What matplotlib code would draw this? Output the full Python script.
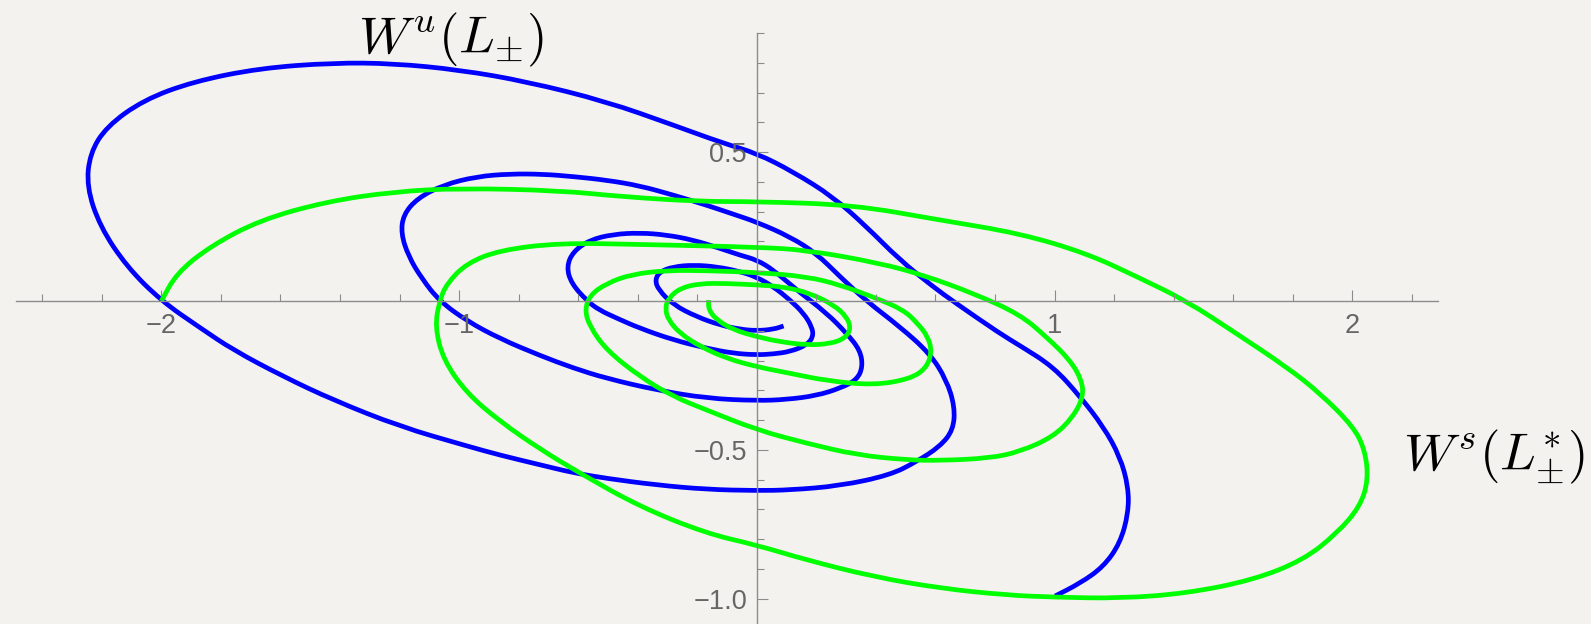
import numpy as np
import matplotlib.pyplot as plt
from matplotlib.path import Path
from matplotlib.patches import PathPatch
from matplotlib.ticker import FixedLocator, FixedFormatter

plt.rcParams['mathtext.fontset'] = 'cm'
plt.rcParams['font.family'] = ['Liberation Sans', 'DejaVu Sans']

# variedade instável W^u (azul), do centro para fora
wu_x = [0.090, 0.056, 0.000, -0.056, -0.123, -0.202, -0.280, -0.330, -0.342, -0.325,
        -0.280, -0.213, -0.134, -0.056, 0.000, 0.056, 0.112, 0.157, 0.185, 0.190,
        0.168, 0.112, 0.056, 0.000, -0.078, -0.168, -0.280, -0.392, -0.470, -0.530,
        -0.570, -0.623, -0.639, -0.617, -0.561, -0.483, -0.393, -0.303, -0.214, -0.124,
        -0.057, 0.000, 0.056, 0.134, 0.235, 0.302, 0.347, 0.356, 0.336, 0.280,
        0.200, 0.100, 0.000, -0.169, -0.337, -0.505, -0.617, -0.729, -0.862, -0.974,
        -1.066, -1.125, -1.170, -1.195, -1.187, -1.140, -1.053, -0.941, -0.829, -0.717,
        -0.617, -0.505, -0.393, -0.281, -0.169, -0.080, 0.000, 0.111, 0.200, 0.279,
        0.368, 0.480, 0.581, 0.637, 0.665, 0.660, 0.615, 0.536, 0.447, 0.279,
        0.111, 0.000, -0.169, -0.337, -0.505, -0.617, -0.729, -0.862, -0.974, -1.198,
        -1.422, -1.590, -1.758, -1.870, -2.000, -2.116, -2.206, -2.251, -2.240, -2.184,
        -2.060, -1.893, -1.669, -1.422, -1.221, -0.997, -0.773, -0.505, -0.281, -0.113,
        0.000, 0.122, 0.256, 0.368, 0.480, 0.592, 0.665, 0.816, 0.884, 0.996,
        1.086, 1.164, 1.220, 1.248, 1.248, 1.220, 1.164, 1.086, 1.002]
wu_y = [-0.084, -0.095, -0.100, -0.095, -0.081, -0.053, -0.013, 0.037, 0.071, 0.099,
        0.115, 0.121, 0.115, 0.099, 0.080, 0.048, 0.003, -0.041, -0.086, -0.120,
        -0.148, -0.170, -0.178, -0.181, -0.176, -0.159, -0.131, -0.092, -0.058, -0.030,
        0.000, 0.059, 0.115, 0.166, 0.205, 0.224, 0.229, 0.222, 0.205, 0.177,
        0.154, 0.138, 0.104, 0.037, -0.041, -0.109, -0.165, -0.221, -0.265, -0.293,
        -0.318, -0.331, -0.335, -0.327, -0.299, -0.260, -0.225, -0.183, -0.127, -0.067,
        0.000, 0.075, 0.150, 0.227, 0.290, 0.345, 0.390, 0.418, 0.427, 0.426,
        0.418, 0.406, 0.387, 0.356, 0.322, 0.292, 0.265, 0.216, 0.160, 0.082,
        0.000, -0.086, -0.176, -0.265, -0.355, -0.433, -0.489, -0.540, -0.585, -0.621,
        -0.635, -0.637, -0.633, -0.618, -0.596, -0.577, -0.550, -0.518, -0.487, -0.422,
        -0.333, -0.254, -0.165, -0.090, 0.000, 0.115, 0.250, 0.384, 0.496, 0.586,
        0.675, 0.737, 0.782, 0.800, 0.798, 0.776, 0.737, 0.670, 0.591, 0.530,
        0.496, 0.434, 0.350, 0.250, 0.138, 0.048, -0.005, -0.109, -0.150, -0.221,
        -0.321, -0.422, -0.523, -0.624, -0.713, -0.814, -0.893, -0.948, -0.991]

# variedade estável W^s (verde), do centro para fora
ws_x = [-0.162, -0.162, -0.134, -0.078, 0.000, 0.078, 0.168, 0.246, 0.297, 0.316,
        0.302, 0.258, 0.179, 0.090, 0.000, -0.101, -0.190, -0.258, -0.297, -0.308,
        -0.297, -0.258, -0.190, -0.101, 0.000, 0.112, 0.235, 0.392, 0.515, 0.570,
        0.588, 0.575, 0.540, 0.493, 0.400, 0.280, 0.168, 0.000, -0.168, -0.300,
        -0.420, -0.505, -0.560, -0.578, -0.561, -0.505, -0.393, -0.281, -0.169, 0.000,
        0.167, 0.335, 0.503, 0.615, 0.783, 0.884, 0.996, 1.063, 1.097, 1.091,
        1.052, 0.972, 0.884, 0.727, 0.559, 0.414, 0.168, 0.000, -0.392, -0.661,
        -0.862, -0.974, -1.041, -1.066, -1.081, -1.053, -0.974, -0.862, -0.729, -0.595,
        -0.393, -0.169, 0.000, 0.167, 0.391, 0.615, 0.839, 1.000, 1.220, 1.444,
        1.668, 1.836, 1.948, 2.026, 2.054, 2.043, 2.004, 1.892, 1.780, 1.612,
        1.444, 1.276, 1.108, 0.884, 0.615, 0.324, 0.000, -0.191, -0.450, -0.661,
        -0.997, -1.221, -1.445, -1.669, -1.837, -1.949, -2.000]
ws_y = [0.003, -0.030, -0.064, -0.097, -0.120, -0.137, -0.148, -0.144, -0.125, -0.092,
        -0.053, -0.013, 0.026, 0.048, 0.054, 0.059, 0.059, 0.043, 0.009, -0.025,
        -0.064, -0.109, -0.153, -0.193, -0.221, -0.243, -0.268, -0.283, -0.262, -0.225,
        -0.170, -0.120, -0.075, -0.030, 0.010, 0.054, 0.082, 0.096, 0.102, 0.103,
        0.090, 0.059, 0.020, -0.030, -0.086, -0.165, -0.254, -0.321, -0.366, -0.433,
        -0.478, -0.517, -0.534, -0.536, -0.528, -0.506, -0.456, -0.389, -0.321, -0.265,
        -0.198, -0.120, -0.045, 0.026, 0.087, 0.127, 0.171, 0.181, 0.190, 0.195,
        0.171, 0.127, 0.059, 0.000, -0.086, -0.198, -0.310, -0.405, -0.497, -0.578,
        -0.691, -0.781, -0.820, -0.870, -0.926, -0.965, -0.988, -0.995, -0.999, -0.982,
        -0.937, -0.870, -0.781, -0.691, -0.601, -0.501, -0.422, -0.310, -0.222, -0.110,
        0.000, 0.082, 0.160, 0.227, 0.272, 0.323, 0.334, 0.334, 0.350, 0.371,
        0.379, 0.367, 0.334, 0.272, 0.183, 0.093, 0.000]

x_major = [-2, -1, 1, 2]
x_labels = ['\u22122', '\u22121', '1', '2']
y_major = [-1.0, -0.5, 0.5]
y_labels = ['\u22121.0', '\u22120.5', '0.5']

fundo = '#f3f2ee'
cinza = '#8c8c8c'


def curva(xs, ys):
    # pontos lidos como controles de uma cadeia de Bézier quadráticas
    p = np.column_stack([xs, ys])
    verts = [p[0], (p[0] + p[1]) / 2]
    codes = [Path.MOVETO, Path.LINETO]
    for i in range(1, len(p) - 1):
        verts += [p[i], (p[i] + p[i + 1]) / 2]
        codes += [Path.CURVE3, Path.CURVE3]
    verts.append(p[-1])
    codes.append(Path.LINETO)
    return Path(verts, codes)


fig = plt.figure(figsize=(15.91, 6.24), dpi=100, facecolor=fundo)
ax = fig.add_axes([0, 0, 1, 1], facecolor=fundo)
ax.set_xlim(-2.542, 2.802)
ax.set_ylim(-1.085, 1.011)

# eixos cruzando na origem, estilo Mathematica
for lado in ['top', 'right']:
    ax.spines[lado].set_visible(False)
ax.spines['left'].set_position(('data', 0))
ax.spines['bottom'].set_position(('data', 0))
ax.spines['bottom'].set_bounds(-2.488, 2.289)
ax.spines['left'].set_bounds(-1.085, 0.9)
for lado in ['left', 'bottom']:
    ax.spines[lado].set_color(cinza)
    ax.spines[lado].set_linewidth(1.0)

x_minor = [v for v in np.round(np.arange(-2.4, 2.21, 0.2), 1) if abs(v - round(v)) > 1e-6]
y_minor = [v for v in np.round(np.arange(-1.0, 0.91, 0.1), 1) if abs(v) > 1e-6 and abs(v * 2 - round(v * 2)) > 1e-6]

ax.xaxis.set_major_locator(FixedLocator(x_major))
ax.xaxis.set_major_formatter(FixedFormatter(x_labels))
ax.xaxis.set_minor_locator(FixedLocator(x_minor))
ax.yaxis.set_major_locator(FixedLocator(y_major))
ax.yaxis.set_major_formatter(FixedFormatter(y_labels))
ax.yaxis.set_minor_locator(FixedLocator(y_minor))

ax.tick_params(which='both', direction='in', color=cinza, width=0.8)
ax.tick_params(which='major', length=8, labelsize=19.5, labelcolor='#666666')
ax.tick_params(which='minor', length=4.8)
ax.tick_params(axis='x', which='major', pad=9)
ax.tick_params(axis='y', which='major', pad=7)

ax.add_patch(PathPatch(curva(wu_x, wu_y), fill=False, edgecolor='#0000ff',
                       lw=3.4, joinstyle='round', capstyle='butt'))
ax.add_patch(PathPatch(curva(ws_x, ws_y), fill=False, edgecolor='#00ff00',
                       lw=3.4, joinstyle='round', capstyle='butt'))

ax.text(-1.338, 0.833, r'$W^u(L_{\pm})$', fontsize=38, ha='left', va='baseline')
ax.text(2.782, -0.568, r'$W^s({L}^{*}_{\pm})$', fontsize=38, ha='right', va='baseline')

fig.savefig('out.png', dpi=100, facecolor=fundo)
